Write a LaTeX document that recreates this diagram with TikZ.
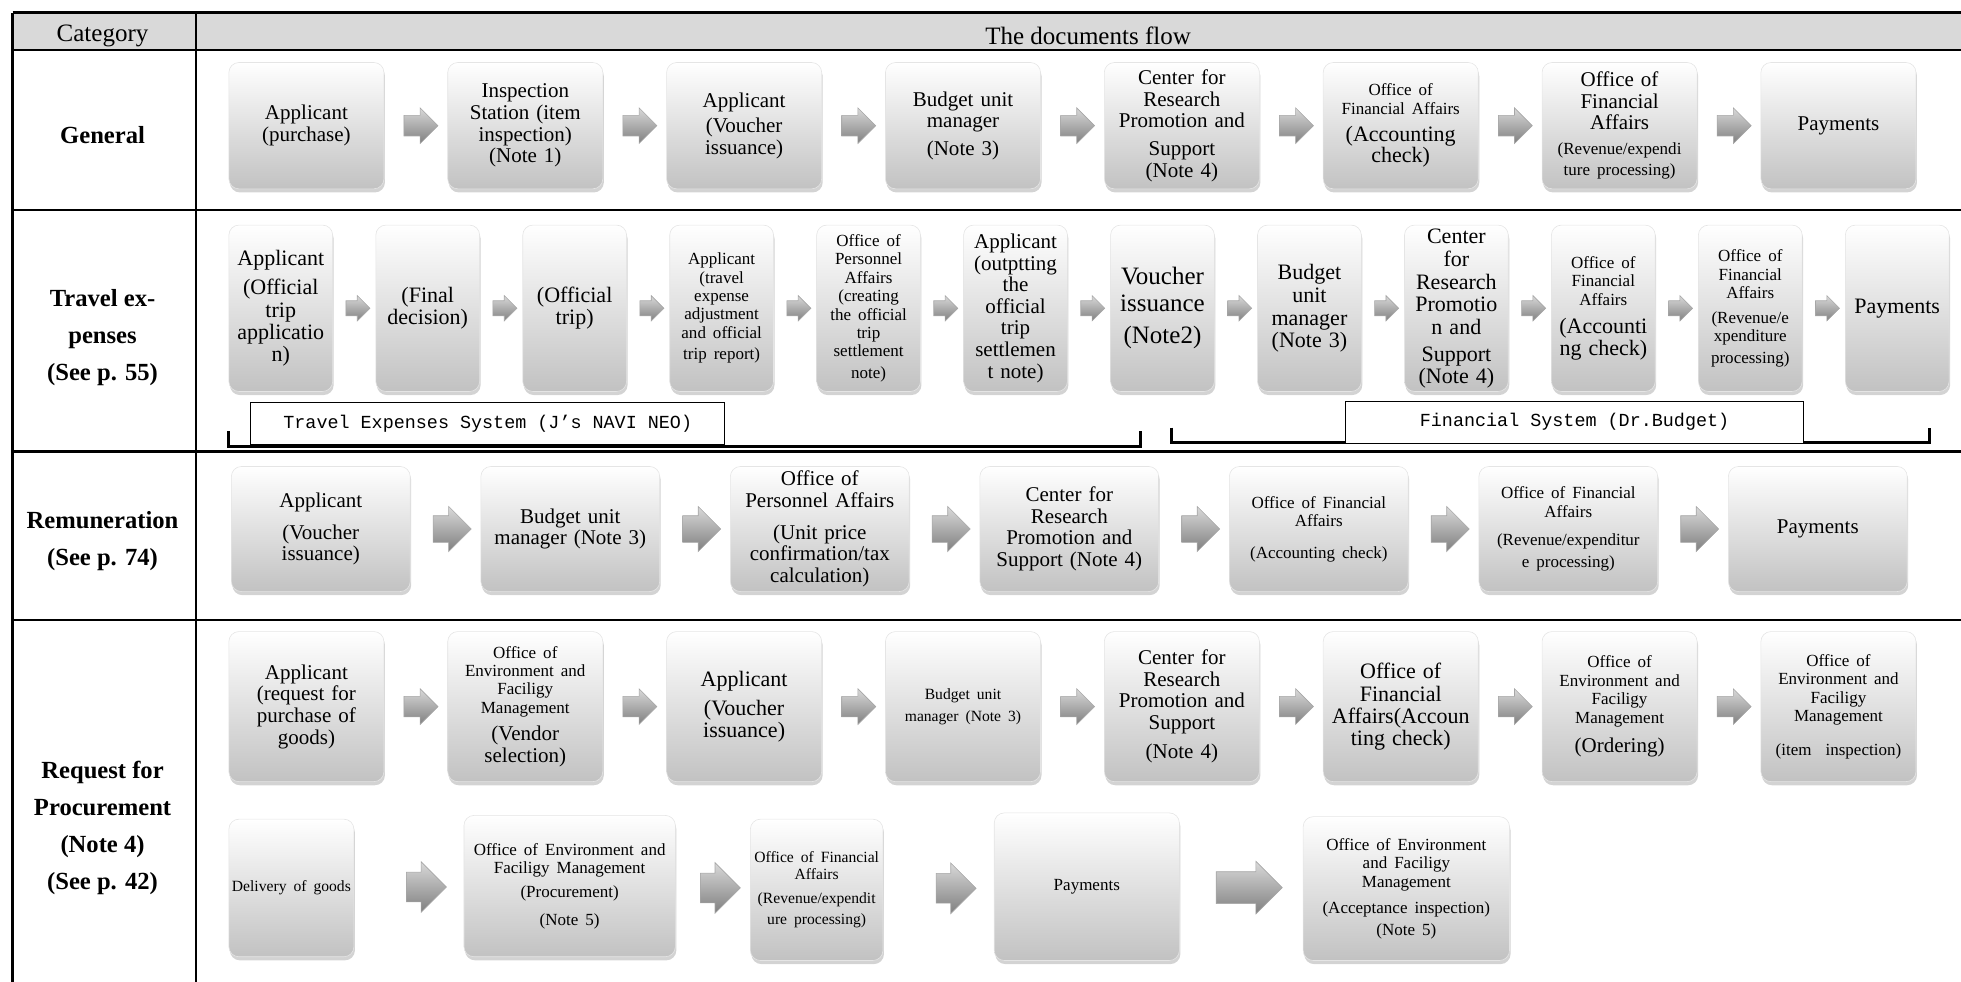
\documentclass[tikz,border=0pt]{standalone}
\usepackage{fontspec}
\setmainfont{Liberation Serif}
\setmonofont{Liberation Mono}
\usetikzlibrary{calc,shapes.arrows,shadows}
\definecolor{headgray}{HTML}{D9D9D9}
\newcommand\sizeN{\fontsize{10.5}{10.8}\selectfont}
\newcommand\sizeS{\fontsize{8.5}{9.2}\selectfont}
\newcommand\sizeT{\fontsize{7.8}{8.6}\selectfont}
\newcommand\sizeL{\fontsize{11}{11.4}\selectfont}
\newcommand\sizeX{\fontsize{12.5}{13.5}\selectfont}
\tikzset{
	docbox/.style={rounded corners=5pt, top color=white, bottom color=black!24, draw=black!10, line width=0.3pt,
		drop shadow={shadow xshift=0.5pt, shadow yshift=-1.8pt, opacity=0.35}, align=center, inner sep=0pt, font=\sizeN},
	docarrow/.style={single arrow, single arrow head indent=0pt, inner xsep=0pt, top color=black!15, bottom color=black!50, draw=black!35, line width=0.3pt},
	arrowA/.style={minimum height=17pt, inner ysep=5pt, single arrow head extend=3.75pt},
	arrowB/.style={minimum height=12pt, inner ysep=3.6pt, single arrow head extend=2.6pt},
	arrowC/.style={minimum height=19pt, inner ysep=6.5pt, single arrow head extend=4.6pt},
	arrowD/.style={minimum height=20pt, inner ysep=7.3pt, single arrow head extend=5.2pt},
	arrowE/.style={minimum height=33pt, inner ysep=7.8pt, single arrow head extend=5.2pt},
	tablerule/.style={line width=1.1pt},
	catlabel/.style={font=\bfseries\fontsize{12.3}{18.5}\selectfont, align=center},
	sysbox/.style={draw, fill=white, line width=0.5pt, minimum width=#1, minimum height=21pt, font=\ttfamily\fontsize{9.2}{10}\selectfont},
	bracket/.style={line width=1.4pt},
}
\long\def\placebox[#1](#2)(#3:#4:#5:#6)#7{%
	\pgfmathsetlengthmacro\boxw{(#4-#3)*0.625pt}%
	\pgfmathsetlengthmacro\boxh{(#6-#5)*0.625pt}%
	\pgfmathsetlengthmacro\boxt{(#4-#3)*0.625pt-3pt}%
	\node[docbox, minimum width=\boxw, minimum height=\boxh, text width=\boxt, #1] (#2) at ({(#3+#4)/2},{(#5+#6)/2}) {#7};}
\def\flowarrow[#1](#2)(#3){\node[docarrow, #1] (#2#3) at ($(#2.east)!0.5!(#3.west)$) {};}

\begin{document}
\begin{tikzpicture}[x=0.625pt, y=-0.625pt]
		%%%%% START %%%%%
		\useasboundingbox (0,0) rectangle (1568,785);
		
		% table
		\fill[headgray] (10,10) rectangle (1568,40);
		\draw[tablerule] (10,10) -- (1568,10);
		\draw[tablerule] (10,40) -- (1568,40);
		\draw[tablerule] (10,168) -- (1568,168);
		\draw[tablerule] (10,361) -- (1568,361);
		\draw[tablerule] (10,496) -- (1568,496);
		\draw[tablerule] (10,10) -- (10,785);
		\draw[tablerule] (157,10) -- (157,785);
		
		\node[font=\fontsize{12.5}{14}\selectfont] (cathead) at (82,29) {Category};
		\node[font=\fontsize{12.5}{14}\selectfont] (flowhead) at (870,29) {The documents flow};
		
		\node[catlabel] (catgen) at (82,108) {General};
		\node[catlabel] (cattrv) at (82,270) {Travel ex-\\penses\\(See p. 55)};
		\node[catlabel] (catrem) at (82,433) {Remuneration\\(See p. 74)};
		\node[catlabel] (catreq) at (82,662) {Request for\\Procurement\\(Note 4)\\(See p. 42)};
		
		% general
		\placebox[](gen1)(183:307:50:151){Applicant\\(purchase)}
		\placebox[](gen2)(358:482:50:151){Inspection\\Station (item\\inspection)\\(Note 1)}
		\placebox[](gen3)(533:657:50:151){Applicant\\[2pt](Voucher\\issuance)}
		\placebox[](gen4)(708:832:50:151){Budget unit\\manager\\[3pt](Note 3)}
		\placebox[](gen5)(883:1007:50:151){Center for\\Research\\Promotion and\\[3pt]Support\\(Note 4)}
		\placebox[](gen6)(1058:1182:50:151){{\sizeS Office of\\Financial Affairs\par}\vspace{2pt}\sizeL(Accounting\\check)}
		\placebox[](gen7)(1233:1357:50:151){Office of\\Financial\\Affairs\par\vspace{3pt}\sizeS(Revenue/expendi\\ture processing)}
		\placebox[](gen8)(1408:1532:50:151){Payments}
		
		\flowarrow[arrowA](gen1)(gen2)
		\flowarrow[arrowA](gen2)(gen3)
		\flowarrow[arrowA](gen3)(gen4)
		\flowarrow[arrowA](gen4)(gen5)
		\flowarrow[arrowA](gen5)(gen6)
		\flowarrow[arrowA](gen6)(gen7)
		\flowarrow[arrowA](gen7)(gen8)
		
		% travel expenses
		\placebox[](trv1)(183:266:180:313){\sizeL Applicant\\[3pt](Official\\trip\\applicatio\\n)}
		\placebox[](trv2)(300.5:383.5:180:313){\sizeL(Final\\decision)}
		\placebox[](trv3)(418:501:180:313){\sizeL(Official\\trip)}
		\placebox[](trv4)(535.5:618.5:180:313){\sizeS Applicant\\(travel\\expense\\adjustment\\and official\\trip report)}
		\placebox[](trv5)(653:736:180:313){\sizeS Office of\\Personnel\\Affairs\\(creating\\the official\\trip\\settlement\\note)}
		\placebox[](trv6)(770.5:853.5:180:313){Applicant\\(outptting\\the\\official\\trip\\settlemen\\t note)}
		\placebox[](trv7)(888:971:180:313){\sizeX Voucher\\issuance\\[5pt](Note2)}
		\placebox[](trv8)(1005.5:1088.5:180:313){\sizeL Budget\\unit\\manager\\(Note 3)}
		\placebox[](trv9)(1123:1206:180:313){\sizeL Center\\for\\Research\\Promotio\\n and\\[2pt]Support\\(Note 4)}
		\placebox[](trv10)(1240.5:1323.5:180:313){{\sizeS Office of\\Financial\\Affairs\par}\vspace{3pt}\sizeL(Accounti\\ng check)}
		\placebox[](trv11)(1358:1441:180:313){\sizeS Office of\\Financial\\Affairs\\[3pt](Revenue/e\\xpenditure\\processing)}
		\placebox[](trv12)(1475.5:1558.5:180:313){\sizeL Payments}
		
		\flowarrow[arrowB](trv1)(trv2)
		\flowarrow[arrowB](trv2)(trv3)
		\flowarrow[arrowB](trv3)(trv4)
		\flowarrow[arrowB](trv4)(trv5)
		\flowarrow[arrowB](trv5)(trv6)
		\flowarrow[arrowB](trv6)(trv7)
		\flowarrow[arrowB](trv7)(trv8)
		\flowarrow[arrowB](trv8)(trv9)
		\flowarrow[arrowB](trv9)(trv10)
		\flowarrow[arrowB](trv10)(trv11)
		\flowarrow[arrowB](trv11)(trv12)
		
		\draw[bracket] (183,345) -- (183,357) -- (912,357) -- (912,345);
		\draw[bracket] (937,342) -- (937,354) -- (1543,354) -- (1543,342);
		\node[sysbox=237pt] (trvsys) at (390,339) {Travel Expenses System (J’s NAVI NEO)};
		\node[sysbox=229pt] (finsys) at (1259,337.5) {Financial System (Dr.Budget)};
		
		% remuneration
		\placebox[](rem1)(185:328:373:473){Applicant\\[5pt](Voucher\\issuance)}
		\placebox[](rem2)(384.5:527.5:373:473){Budget unit\\manager (Note 3)}
		\placebox[](rem3)(584:727:373:473){Office of\\Personnel Affairs\\[5pt](Unit price\\confirmation/tax\\calculation)}
		\placebox[](rem4)(783.5:926.5:373:473){Center for\\Research\\Promotion and\\Support (Note 4)}
		\placebox[](rem5)(983:1126:373:473){\sizeS Office of Financial\\Affairs\\[5pt](Accounting check)}
		\placebox[](rem6)(1182.5:1325.5:373:473){\sizeS Office of Financial\\Affairs\\[5pt](Revenue/expenditur\\e processing)}
		\placebox[](rem7)(1382:1525:373:473){Payments}
		
		\flowarrow[arrowC](rem1)(rem2)
		\flowarrow[arrowC](rem2)(rem3)
		\flowarrow[arrowC](rem3)(rem4)
		\flowarrow[arrowC](rem4)(rem5)
		\flowarrow[arrowC](rem5)(rem6)
		\flowarrow[arrowC](rem6)(rem7)
		
		% request for procurement
		\placebox[](req1)(183:307:505:625){Applicant\\(request for\\purchase of\\goods)}
		\placebox[](req2)(358:482:505:625){{\sizeS Office of\\Environment and\\Faciligy\\Management\par}\vspace{3pt}(Vendor\\selection)}
		\placebox[](req3)(533:657:505:625){\sizeL Applicant\\[3pt](Voucher\\issuance)}
		\placebox[](req4)(708:832:505:625){\sizeT Budget unit\\manager (Note 3)}
		\placebox[](req5)(883:1007:505:625){Center for\\Research\\Promotion and\\Support\\[4pt](Note 4)}
		\placebox[](req6)(1058:1182:505:625){\sizeL Office of\\Financial\\Affairs(Accoun\\ting check)}
		\placebox[](req7)(1233:1357:505:625){{\sizeS Office of\\Environment and\\Faciligy\\Management\par}\vspace{4pt}(Ordering)}
		\placebox[](req8)(1408:1532:505:625){\sizeS Office of\\Environment and\\Faciligy\\Management\\[6pt](item\ \ inspection)}
		
		\flowarrow[arrowA](req1)(req2)
		\flowarrow[arrowA](req2)(req3)
		\flowarrow[arrowA](req3)(req4)
		\flowarrow[arrowA](req4)(req5)
		\flowarrow[arrowA](req5)(req6)
		\flowarrow[arrowA](req6)(req7)
		\flowarrow[arrowA](req7)(req8)
		
		\placebox[](req9)(183:283:655:765){\sizeT Delivery of goods}
		\placebox[](req10)(371:540:652:765){\sizeS Office of Environment and\\Faciligy Management\\[3pt](Procurement)\\[3pt](Note 5)}
		\placebox[](req11)(600:706:655:768){\sizeT Office of Financial\\Affairs\\[3pt](Revenue/expendit\\ure processing)}
		\placebox[](req12)(795:943:650:768){\sizeS Payments}
		\placebox[](req13)(1042:1207:653:768){\sizeS Office of Environment\\and Faciligy\\Management\\[4pt](Acceptance inspection)\\(Note 5)}
		
		\flowarrow[arrowD, xshift=5pt](req9)(req10)
		\flowarrow[arrowD](req10)(req11)
		\flowarrow[arrowD, xshift=5pt](req11)(req12)
		\flowarrow[arrowE](req12)(req13)
		
		%%%%% END %%%%%
\end{tikzpicture}
\end{document}
